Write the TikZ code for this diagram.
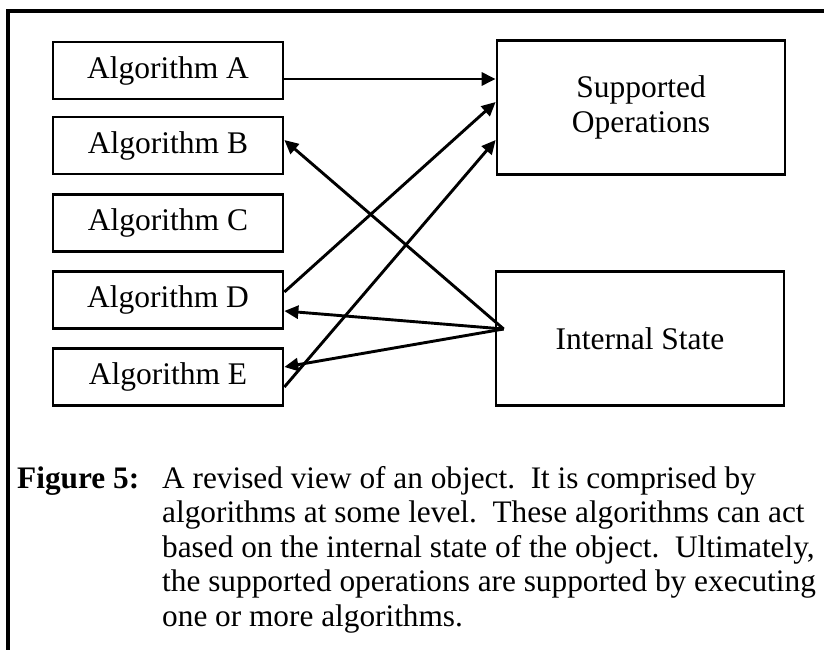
\documentclass[tikz,border=0pt]{standalone}
\usepackage{fontspec}
\setmainfont{Liberation Serif}
\usetikzlibrary{arrows.meta,calc}
\begin{document}
\begin{tikzpicture}[x=1pt,y=-1pt,
  algbox/.style={draw, line width=2.7pt, minimum width=230pt, minimum height=57pt,
    inner sep=0pt, font=\fontsize{31.5}{35}\selectfont},
  bigbox/.style={draw, line width=2.7pt, minimum width=288pt, minimum height=134pt,
    inner sep=0pt, align=center, font=\fontsize{31.5}{35}\selectfont},
  link/.style={line width=2.9pt, -{Triangle[length=14pt,width=13pt]}},
  frameline/.style={line width=3.4pt},
  captext/.style={anchor=base west, inner sep=0pt, font=\fontsize{31.3}{34.5}\selectfont}]
\useasboundingbox (0,0) rectangle (824,650);

% outer frame (top and left edges)
\draw[frameline] (8,650) -- (8,11) -- (824,11);

% algorithm column
\node[algbox] (A) at (168,70.5) {Algorithm A};
\node[algbox] (B) at (168,145.5) {Algorithm B};
\node[algbox] (C) at (168,223) {Algorithm C};
\node[algbox] (D) at (168,300) {Algorithm D};
\node[algbox] (E) at (168,377) {Algorithm E};

% object parts
\node[bigbox] (SO) at (641,107.5) {Supported\\Operations};
\node[bigbox] (IS) at (640,338.5) {Internal State};

% algorithms feeding the supported operations
\draw[link] ([yshift=-8.5pt]A.east) -- ([yshift=28.5pt]SO.west);
\draw[link] ([yshift=8pt]D.east) -- ([yshift=5.5pt]SO.west);
\draw[link] ([yshift=-10pt]E.east) -- ([yshift=-32.5pt]SO.west);

% internal state read by algorithms
\coordinate (src) at ($(IS.west)+(9,-9.5)$);
\draw[link] (src) -- ([yshift=5.5pt]B.east);
\draw[link] (src) -- ([yshift=-11pt]D.east);
\draw[link] (src) -- ([yshift=10pt]E.east);

% caption
\node[captext, font=\fontsize{31.3}{34.5}\selectfont\bfseries] (figlabel) at (17,488) {Figure 5:};
\node[captext] (captext) at (162,488) {\parbox[t]{660pt}{\raggedright
A revised view of an object.\ \ It is comprised by\\
algorithms at some level.\ \ These algorithms can act\\
based on the internal state of the object.\ \ Ultimately,\\
the supported operations are supported by executing\\
one or more algorithms.}};
\end{tikzpicture}
\end{document}
